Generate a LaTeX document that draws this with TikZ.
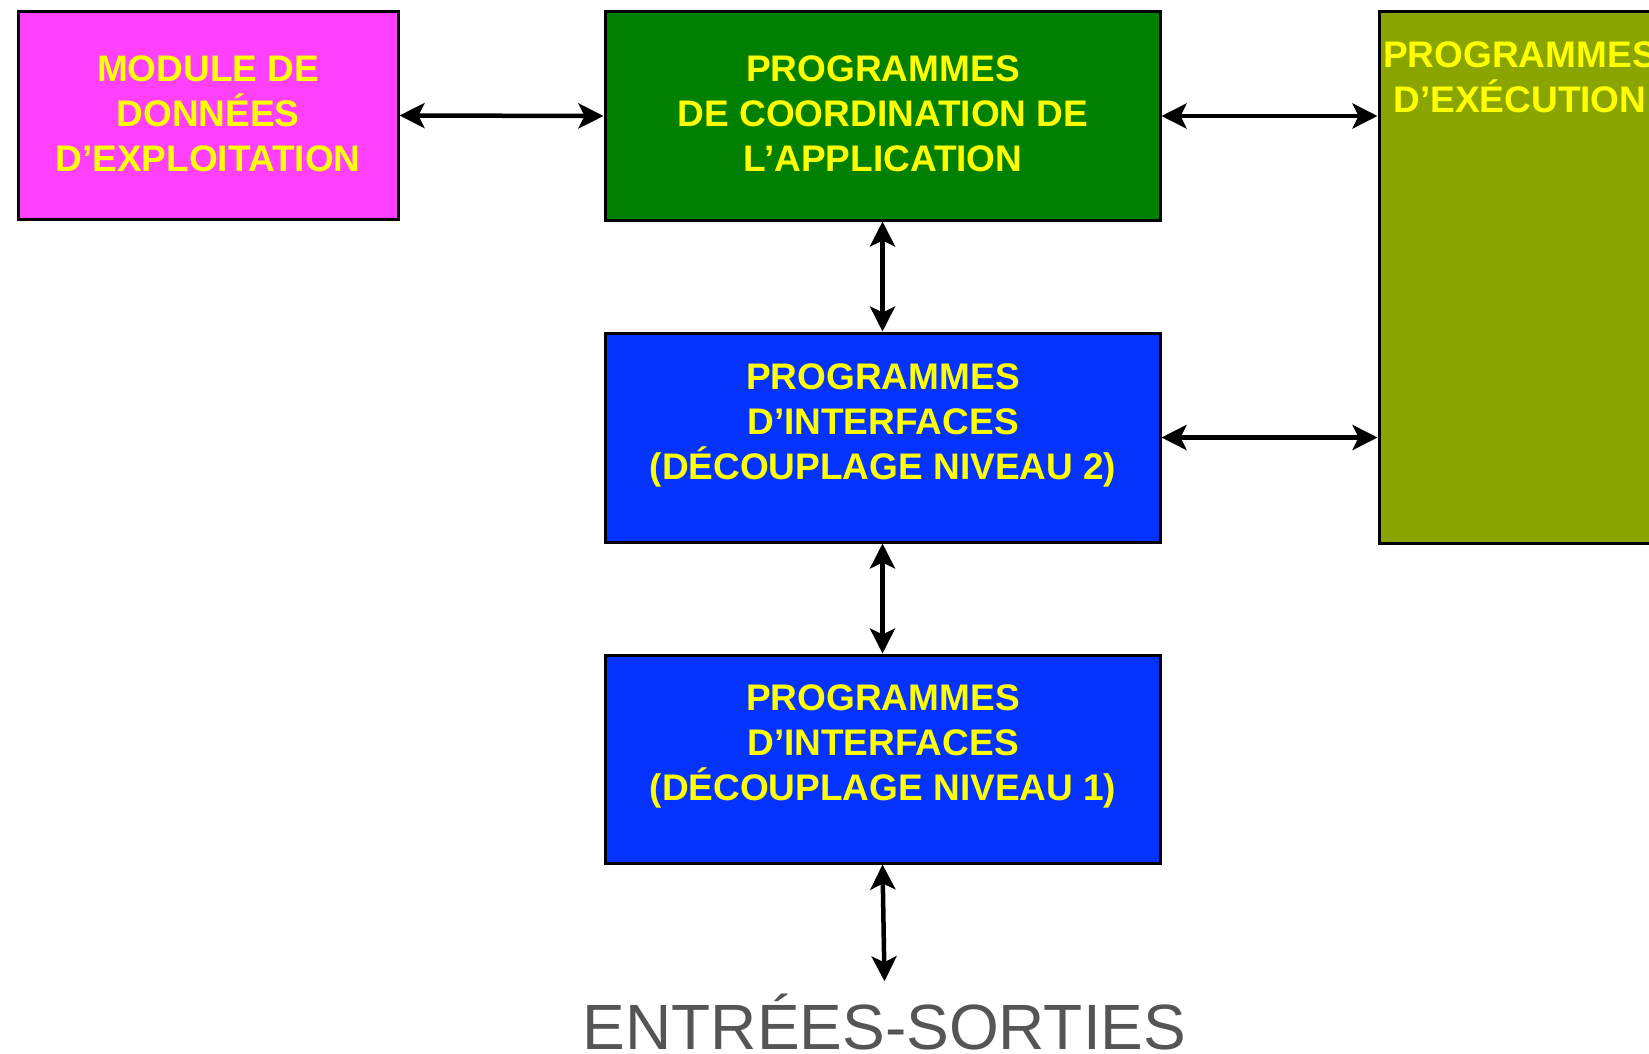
\documentclass[tikz,border=0pt]{standalone}
\usepackage{fontspec}
\setmainfont{Liberation Sans}
\usetikzlibrary{arrows.meta}

\definecolor{modmag}{HTML}{FF40FF}
\definecolor{coordgreen}{HTML}{008000}
\definecolor{ifblue}{HTML}{0433FF}
\definecolor{execolive}{HTML}{8AA400}
\definecolor{boxtext}{HTML}{FFFF00}
\definecolor{iotext}{HTML}{555555}

\begin{document}
\begin{tikzpicture}[x=1pt,y=-1pt,
  block/.style={draw=black,line width=3pt,inner sep=0pt,rectangle},
  boxlabel/.style={text=boxtext,align=center,inner sep=0pt,
    font=\fontsize{37}{45}\selectfont\bfseries},
  link/.style={line width=4.5pt,
    {Stealth[length=25pt,width=25pt,inset=6pt]}-{Stealth[length=25pt,width=25pt,inset=6pt]}}]

  % page frame
  \useasboundingbox (0,0) rectangle (1649,1054);

  % boxes
  \node[block,fill=modmag,minimum width=380pt,minimum height=207pt]
    (mod) at (208,115.5) {};
  \node[block,fill=coordgreen,minimum width=555pt,minimum height=208pt]
    (coord) at (882.5,116) {};
  \node[block,fill=ifblue,minimum width=555pt,minimum height=209pt]
    (if2) at (882.5,437.5) {};
  \node[block,fill=ifblue,minimum width=555pt,minimum height=208pt]
    (if1) at (882.5,759) {};
  \node[block,fill=execolive,minimum width=301pt,minimum height=531pt]
    (exec) at (1529.5,277.5) {};

  % box texts
  \node[boxlabel] (modtext) at (208,114) {MODULE DE\\DONNÉES\\D’EXPLOITATION};
  \node[boxlabel] (coordtext) at (883,114) {PROGRAMMES\\DE COORDINATION DE\\L’APPLICATION};
  \node[boxlabel] (if2text) at (883,425) {PROGRAMMES\\D’INTERFACES\\(DÉCOUPLAGE NIVEAU 2)};
  \node[boxlabel] (if1text) at (883,746.5) {PROGRAMMES\\D’INTERFACES\\(DÉCOUPLAGE NIVEAU 1)};
  \node[boxlabel] (exectext) at (1520,77.5) {PROGRAMMES\\D’EXÉCUTION};

  % inputs / outputs
  \node[text=iotext,inner sep=0pt,anchor=base,font=\fontsize{64}{70}\selectfont]
    (io) at (884.5,1049) {ENTRÉES-SORTIES};

  % connectors
  \draw[link] (mod.east) -- (coord.west);
  \draw[link] (coord.east) -- (exec.west |- coord.east);
  \draw[link] (if2.east) -- (exec.west |- if2.east);
  \draw[link] (coord.south) -- (if2.north);
  \draw[link] (if2.south) -- (if1.north);
  \draw[link] (if1.south) -- ([yshift=12pt]io.north);
\end{tikzpicture}
\end{document}
